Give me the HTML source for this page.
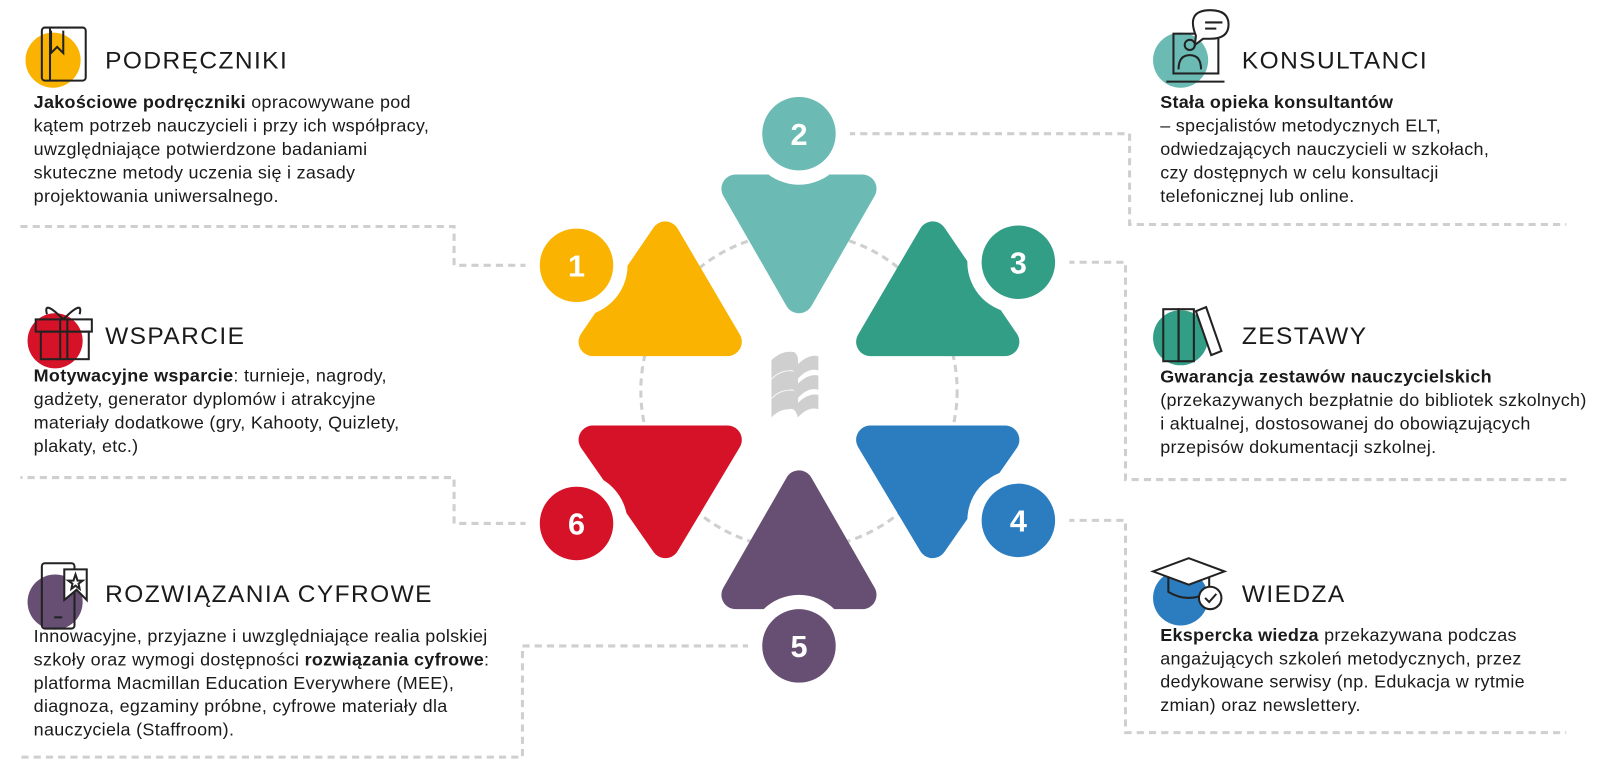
<!DOCTYPE html>
<html><head><meta charset="utf-8"><style>
body{margin:0;width:1600px;height:768px;background:#fff;position:relative;overflow:hidden;font-family:"Liberation Sans",sans-serif;color:#1a1a1a}
#w{position:absolute;left:0;top:0;width:1568px;height:753px;transform:scale(1.0204);transform-origin:0 0}
.t{position:absolute;font-size:24px;white-space:nowrap;letter-spacing:1.4px}
.b{position:absolute;font-size:17.6px;line-height:23px;white-space:nowrap;letter-spacing:0.3px}
.b b{font-weight:600}
svg{position:absolute;left:0;top:0}
</style></head><body><div id="w">
<svg width="1568" height="753" viewBox="0 0 1568 753">
<g fill="none" stroke="#cfcfcf" stroke-width="3" stroke-dasharray="7 5">
<circle cx="783" cy="383" r="155"/>
<polyline points="529,260 445,260 445,222 20,222"/>
<polyline points="819,131 1107,131 1107,220 1535,220"/>
<polyline points="1034,257 1103,257 1103,470 1535,470"/>
<polyline points="1034,510 1103,510 1103,718 1535,718"/>
<polyline points="529,513 445,513 445,468 20,468"/>
<polyline points="747,633 512,633 512,742 20,742"/>
</g>
<g stroke-linejoin="round" stroke-width="28">
<polygon points="652,231 581,335 713,335" fill="#f9b300" stroke="#f9b300"/>
<polygon points="721,185 845,185 783,293" fill="#6bbbb4" stroke="#6bbbb4"/>
<polygon points="914,231 853,335 985,335" fill="#329e86" stroke="#329e86"/>
<polygon points="581,431 713,431 652,533" fill="#d61228" stroke="#d61228"/>
<polygon points="853,431 985,431 914,533" fill="#2b7dbf" stroke="#2b7dbf"/>
<polygon points="783,475 721,583 845,583" fill="#664f73" stroke="#664f73"/>
</g>
<g fill="#fff">
<circle cx="565" cy="260" r="50"/><circle cx="783" cy="131" r="50"/><circle cx="998" cy="257" r="50"/>
<circle cx="998" cy="510" r="50"/><circle cx="783" cy="633" r="50"/><circle cx="565" cy="513" r="50"/>
</g>
<circle cx="565" cy="260" r="36" fill="#f9b300"/><circle cx="783" cy="131" r="36" fill="#6bbbb4"/>
<circle cx="998" cy="257" r="36" fill="#329e86"/><circle cx="998" cy="510" r="36" fill="#2b7dbf"/>
<circle cx="783" cy="633" r="36" fill="#664f73"/><circle cx="565" cy="513" r="36" fill="#d61228"/>
<g fill="#fff" font-family="Liberation Sans" font-weight="bold" font-size="30" text-anchor="middle">
<text x="565" y="271">1</text><text x="783" y="142">2</text><text x="998" y="268">3</text>
<text x="998" y="521">4</text><text x="783" y="644">5</text><text x="565" y="524">6</text>
</g>
<g fill="#cfcfcf">
<path d="M756,353 q10,-10 22,-8 q5,3 4,12 q10,-10 20,-8 l0,14 q-10,-3 -20,8 q-3,-10 -8,-8 q-10,0 -18,8z"/>
<path d="M756,372 q10,-10 22,-8 q5,3 4,12 q10,-10 20,-8 l0,14 q-10,-3 -20,8 q-3,-10 -8,-8 q-10,0 -18,8z"/>
<path d="M756,391 q10,-10 22,-8 q5,3 4,12 q10,-10 20,-8 l0,14 q-10,-3 -20,8 q-3,-10 -8,-8 q-10,0 -18,8z"/>
</g>
<circle cx="52" cy="59" r="27" fill="#f9b300"/>
<g fill="none" stroke="#222" stroke-width="2"><rect x="41" y="27" width="43" height="52" rx="3"/><line x1="49" y1="27" x2="49" y2="79"/><polyline points="50,30 50,52 56,46 62,52 62,30"/></g>
<circle cx="54" cy="334" r="27" fill="#d61228"/>
<g fill="none" stroke="#222" stroke-width="2"><rect x="35" y="313" width="55" height="12"/><rect x="40" y="325" width="47" height="27"/><line x1="59" y1="313" x2="59" y2="352"/><line x1="66" y1="313" x2="66" y2="352"/><path d="M62,313 q-20,-20 -16,-5 M62,313 q20,-20 16,-5"/></g>
<circle cx="54" cy="590" r="27" fill="#664f73"/>
<g fill="none" stroke="#222" stroke-width="2"><rect x="41" y="552" width="32" height="64" rx="3"/><line x1="53" y1="605" x2="61" y2="605"/><polygon points="63,558 85,558 85,588 75,578 63,588" fill="#fff"/><polygon points="74,563 76,569 81,569 77,572 78,577 74,574 70,577 71,572 67,569 72,569"/></g>
<circle cx="1157" cy="59" r="27" fill="#6bbbb4"/>
<g fill="none" stroke="#222" stroke-width="2"><rect x="1150" y="33" width="44" height="39"/><line x1="1143" y1="80" x2="1200" y2="80"/><circle cx="1166" cy="44" r="5"/><path d="M1155,68 q0,-14 11,-14 q11,0 11,14"/><path d="M1172,35 q-10,-25 14,-25 q18,0 18,14 q0,14 -18,14 l-7,0 l-8,6z" fill="#fff"/><line x1="1181" y1="22" x2="1198" y2="22"/><line x1="1181" y1="28" x2="1192" y2="28"/></g>
<circle cx="1157" cy="331" r="27" fill="#329e86"/>
<g fill="none" stroke="#222" stroke-width="2"><rect x="1140" y="303" width="15" height="51"/><rect x="1155" y="303" width="15" height="51"/><polygon points="1172,305 1182,301 1197,344 1187,348" fill="#fff"/></g>
<circle cx="1157" cy="586" r="27" fill="#2b7dbf"/>
<g fill="none" stroke="#222" stroke-width="2"><polygon points="1130,560 1165,547 1200,560 1165,573" fill="#fff"/><path d="M1145,566 l0,14 q20,12 40,0 l0,-14"/><circle cx="1186" cy="586" r="11" fill="#fff"/><polyline points="1181,586 1185,590 1192,582"/></g>
</svg>
<div class="t" style="left:103px;top:46px">PODRĘCZNIKI</div>
<div class="b" style="left:33px;top:89px"><b>Jakościowe podręczniki</b> opracowywane pod<br>kątem potrzeb nauczycieli i przy ich współpracy,<br>uwzględniające potwierdzone badaniami<br>skuteczne metody uczenia się i zasady<br>projektowania uniwersalnego.</div>
<div class="t" style="left:103px;top:316px">WSPARCIE</div>
<div class="b" style="left:33px;top:357px"><b>Motywacyjne wsparcie</b>: turnieje, nagrody,<br>gadżety, generator dyplomów i atrakcyjne<br>materiały dodatkowe (gry, Kahooty, Quizlety,<br>plakaty, etc.)</div>
<div class="t" style="left:103px;top:569px">ROZWIĄZANIA CYFROWE</div>
<div class="b" style="left:33px;top:612px">Innowacyjne, przyjazne i uwzględniające realia polskiej<br>szkoły oraz wymogi dostępności <b>rozwiązania cyfrowe</b>:<br>platforma Macmillan Education Everywhere (MEE),<br>diagnoza, egzaminy próbne, cyfrowe materiały dla<br>nauczyciela (Staffroom).</div>
<div class="t" style="left:1217px;top:46px">KONSULTANCI</div>
<div class="b" style="left:1137px;top:89px"><b>Stała opieka konsultantów</b><br>– specjalistów metodycznych ELT,<br>odwiedzających nauczycieli w szkołach,<br>czy dostępnych w celu konsultacji<br>telefonicznej lub online.</div>
<div class="t" style="left:1217px;top:316px">ZESTAWY</div>
<div class="b" style="left:1137px;top:358px"><b>Gwarancja zestawów nauczycielskich</b><br>(przekazywanych bezpłatnie do bibliotek szkolnych)<br>i aktualnej, dostosowanej do obowiązujących<br>przepisów dokumentacji szkolnej.</div>
<div class="t" style="left:1217px;top:569px">WIEDZA</div>
<div class="b" style="left:1137px;top:611px"><b>Ekspercka wiedza</b> przekazywana podczas<br>angażujących szkoleń metodycznych, przez<br>dedykowane serwisy (np. Edukacja w rytmie<br>zmian) oraz newslettery.</div>
</div></body></html>
